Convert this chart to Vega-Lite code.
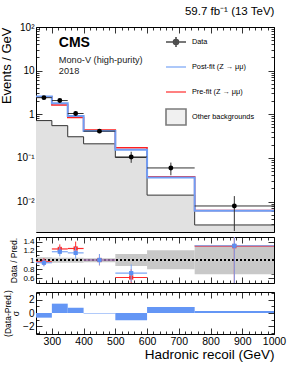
{
  "$schema": "https://vega.github.io/schema/vega-lite/v6.json",
  "padding": {"left": 0, "top": 5, "right": 5, "bottom": 5},
  "spacing": 3,
  "datasets": {
    "bins": [
      {"lo": 250, "hi": 300, "mid": 275, "data": 2.40, "dlo": 2.20, "dhi": 2.62, "post": 2.56, "pre": 2.51, "other": 0.716, "bandLo": 0.94, "bandHi": 1.06, "rPre": 0.96, "rPreLo": 0.88, "rPreHi": 1.04, "rPost": 0.94, "rPostLo": 0.86, "rPostHi": 1.02, "pull": -0.7},
      {"lo": 300, "hi": 350, "mid": 325, "data": 2.06, "dlo": 1.88, "dhi": 2.25, "post": 1.79, "pre": 1.64, "other": 0.548, "bandLo": 0.94, "bandHi": 1.05, "rPre": 1.24, "rPreLo": 1.13, "rPreHi": 1.34, "rPost": 1.18, "rPostLo": 1.08, "rPostHi": 1.28, "pull": 1.4},
      {"lo": 350, "hi": 400, "mid": 375, "data": 1.04, "dlo": 0.92, "dhi": 1.17, "post": 0.914, "pre": 0.839, "other": 0.305, "bandLo": 0.94, "bandHi": 1.05, "rPre": 1.25, "rPreLo": 1.11, "rPreHi": 1.40, "rPost": 1.155, "rPostLo": 1.03, "rPostHi": 1.28, "pull": 0.8},
      {"lo": 400, "hi": 500, "mid": 450, "data": 0.41, "dlo": 0.37, "dhi": 0.455, "post": 0.411, "pre": 0.434, "other": 0.21, "bandLo": 0.95, "bandHi": 1.04, "rPre": 1.0, "rPreLo": 0.885, "rPreHi": 1.13, "rPost": 1.0, "rPostLo": 0.885, "rPostHi": 1.13, "pull": -0.08},
      {"lo": 500, "hi": 600, "mid": 550, "data": 0.105, "dlo": 0.077, "dhi": 0.138, "post": 0.153, "pre": 0.170, "other": 0.102, "bandLo": 0.87, "bandHi": 1.13, "rPre": 0.62, "rPreLo": 0.45, "rPreHi": 0.80, "rPost": 0.715, "rPostLo": 0.52, "rPostHi": 0.905, "pull": -1.1},
      {"lo": 600, "hi": 750, "mid": 675, "data": 0.0588, "dlo": 0.040, "dhi": 0.078, "post": 0.0356, "pre": 0.0369, "other": 0.014, "bandLo": 0.80, "bandHi": 1.21, "rPre": null, "rPreLo": null, "rPreHi": null, "rPost": null, "rPostLo": null, "rPostHi": null, "pull": 0.9},
      {"lo": 750, "hi": 1000, "mid": 875, "data": 0.0079, "dlo": 0.0021, "dhi": 0.0133, "post": 0.0061, "pre": 0.0062, "other": 0.0029, "bandLo": 0.69, "bandHi": 1.32, "rPre": 1.30, "rPreLo": 0.3, "rPreHi": 2.3, "rPost": 1.31, "rPostLo": 0.3, "rPostHi": 2.3, "pull": 0.3}
    ]
  },
  "config": {
    "font": "Liberation Sans",
    "view": {"stroke": "black", "strokeWidth": 1},
    "axis": {"domain": false, "grid": false, "tickColor": "black", "tickWidth": 0.8, "labelColor": "black", "titleColor": "black", "labelFont": "Liberation Sans", "titleFont": "Liberation Sans", "titleFontWeight": "normal", "labelOverlap": false, "labelFlush": false, "labelBound": false}
  },
  "resolve": {"scale": {"shape": "independent", "fill": "independent", "stroke": "independent"}},
  "vconcat": [
    {
      "width": 238,
      "height": 205,
      "title": {"text": "59.7 fb⁻¹ (13 TeV)", "anchor": "end", "fontSize": 11.5, "fontWeight": "normal", "offset": 5, "font": "Liberation Sans"},
      "data": {"name": "bins"},
      "resolve": {"axis": {"x": "independent", "y": "independent"}},
      "layer": [
        {
          "transform": [{"fold": ["lo", "hi"], "as": ["edge", "xe"]}],
          "mark": {"type": "area", "color": "#e1e1e1", "clip": true},
          "encoding": {
            "x": {"field": "xe", "type": "quantitative", "scale": {"domain": [250, 1000], "nice": false, "zero": false},
              "axis": {"orient": "bottom", "labels": false, "title": null, "values": [260,280,300,320,340,360,380,400,420,440,460,480,500,520,540,560,580,600,620,640,660,680,700,720,740,760,780,800,820,840,860,880,900,920,940,960,980,1000],
                "tickSize": {"condition": {"test": "datum.value % 100 === 0", "value": -6}, "value": -3}}},
            "y": {"field": "other", "type": "quantitative", "scale": {"type": "log", "domain": [0.002, 100], "nice": false},
              "axis": {"orient": "left", "title": "Events / GeV", "titleFontSize": 13, "titleAnchor": "end", "titlePadding": 3, "labelFontSize": 10, "labelPadding": 8,
                "values": [0.003,0.004,0.005,0.006,0.007,0.008,0.009,0.01,0.02,0.03,0.04,0.05,0.06,0.07,0.08,0.09,0.1,0.2,0.3,0.4,0.5,0.6,0.7,0.8,0.9,1,2,3,4,5,6,7,8,9,10,20,30,40,50,60,70,80,90,100],
                "labelExpr": "datum.value==100?'10²':datum.value==10?'10':datum.value==1?'1':datum.value==0.1?'10⁻¹':datum.value==0.01?'10⁻²':''",
                "tickSize": {"condition": {"test": "datum.value==100||datum.value==10||datum.value==1||datum.value==0.1||datum.value==0.01", "value": -6}, "value": -3}}},
            "y2": {"datum": 0.002}
          }
        },
        {
          "transform": [{"fold": ["lo", "hi"], "as": ["edge", "xe"]}],
          "mark": {"type": "line", "color": "#333333", "strokeWidth": 1, "clip": true},
          "encoding": {
            "x": {"field": "xe", "type": "quantitative",
              "axis": {"orient": "top", "labels": false, "title": null, "values": [260,280,300,320,340,360,380,400,420,440,460,480,500,520,540,560,580,600,620,640,660,680,700,720,740,760,780,800,820,840,860,880,900,920,940,960,980,1000],
                "tickSize": {"condition": {"test": "datum.value % 100 === 0", "value": -6}, "value": -3}}},
            "y": {"field": "other", "type": "quantitative",
              "axis": {"orient": "right", "labels": false, "title": null,
                "values": [0.003,0.004,0.005,0.006,0.007,0.008,0.009,0.01,0.02,0.03,0.04,0.05,0.06,0.07,0.08,0.09,0.1,0.2,0.3,0.4,0.5,0.6,0.7,0.8,0.9,1,2,3,4,5,6,7,8,9,10,20,30,40,50,60,70,80,90,100],
                "tickSize": {"condition": {"test": "datum.value==100||datum.value==10||datum.value==1||datum.value==0.1||datum.value==0.01", "value": -6}, "value": -3}}}
          }
        },
        {
          "transform": [{"fold": ["lo", "hi"], "as": ["edge", "xe"]}],
          "mark": {"type": "line", "color": "#ff1f1f", "strokeWidth": 1.5, "clip": true},
          "encoding": {
            "x": {"field": "xe", "type": "quantitative", "axis": null},
            "y": {"field": "pre", "type": "quantitative", "axis": null}
          }
        },
        {
          "transform": [{"fold": ["lo", "hi"], "as": ["edge", "xe"]}],
          "mark": {"type": "line", "color": "#6f9ef5", "strokeWidth": 2, "clip": true},
          "encoding": {
            "x": {"field": "xe", "type": "quantitative", "axis": null},
            "y": {"field": "post", "type": "quantitative", "axis": null}
          }
        },
        {
          "mark": {"type": "rule", "color": "#333333", "strokeWidth": 1, "clip": true},
          "encoding": {
            "x": {"field": "lo", "type": "quantitative", "axis": null},
            "x2": {"field": "hi"},
            "y": {"field": "data", "type": "quantitative", "axis": null}
          }
        },
        {
          "mark": {"type": "rule", "color": "#333333", "strokeWidth": 1, "clip": true},
          "encoding": {
            "x": {"field": "mid", "type": "quantitative", "axis": null},
            "y": {"field": "dlo", "type": "quantitative", "axis": null},
            "y2": {"field": "dhi"}
          }
        },
        {
          "mark": {"type": "point", "shape": "circle", "filled": true, "color": "black", "opacity": 1, "size": 24, "clip": true},
          "encoding": {
            "x": {"field": "mid", "type": "quantitative", "axis": null},
            "y": {"field": "data", "type": "quantitative", "axis": null}
          }
        },
        {
          "data": {"values": [{"t": "CMS"}]},
          "mark": {"type": "text", "align": "left", "baseline": "middle", "fontSize": 14, "fontWeight": "bold", "font": "Liberation Sans", "color": "black"},
          "encoding": {
            "text": {"field": "t"},
            "x": {"datum": 322, "type": "quantitative", "axis": null},
            "y": {"datum": 43, "type": "quantitative", "axis": null}
          }
        },
        {
          "data": {"values": [{"t": "Mono-V (high-purity)"}]},
          "mark": {"type": "text", "align": "left", "baseline": "middle", "fontSize": 9.2, "font": "Liberation Sans", "color": "#222222"},
          "encoding": {
            "text": {"field": "t"},
            "x": {"datum": 322, "type": "quantitative", "axis": null},
            "y": {"datum": 17.5, "type": "quantitative", "axis": null}
          }
        },
        {
          "data": {"values": [{"t": "2018"}]},
          "mark": {"type": "text", "align": "left", "baseline": "middle", "fontSize": 9.2, "font": "Liberation Sans", "color": "#222222"},
          "encoding": {
            "text": {"field": "t"},
            "x": {"datum": 322, "type": "quantitative", "axis": null},
            "y": {"datum": 9.8, "type": "quantitative", "axis": null}
          }
        },
        {
          "data": {"values": [{"s": "Data"}, {"s": "Post-fit (Z → μμ)"}, {"s": "Pre-fit (Z → μμ)"}, {"s": "Other backgrounds"}]},
          "transform": [{"filter": "false"}],
          "mark": {"type": "point", "filled": true},
          "encoding": {
            "shape": {"field": "s", "type": "nominal",
              "scale": {"domain": ["Data", "Post-fit (Z → μμ)", "Pre-fit (Z → μμ)", "Other backgrounds"],
                "range": ["M-1,0H1M0,-0.5V0.5M0.25,0A0.25,0.25,0,1,1,-0.25,0A0.25,0.25,0,1,1,0.25,0ZM0,-1L0,-1M0,1L0,1", "M-1,0H1M0,-1L0,-1M0,1L0,1", "M-1,0H1M0,-1L0,-1M0,1L0,1", "M-1,-0.8H1V0.8H-1ZM0,-1L0,-1M0,1L0,1"]},
              "legend": {"orient": "none", "legendX": 129, "legendY": 4, "title": null, "symbolSize": 400, "symbolStrokeWidth": 1.6, "labelFontSize": 7.3, "labelFont": "Liberation Sans", "labelColor": "black", "rowPadding": -6, "labelOffset": 5, "padding": 0}},
            "fill": {"field": "s", "type": "nominal",
              "scale": {"domain": ["Data", "Post-fit (Z → μμ)", "Pre-fit (Z → μμ)", "Other backgrounds"], "range": ["black", "transparent", "transparent", "#e1e1e1"]},
              "legend": {"orient": "none", "legendX": 129, "legendY": 4, "title": null, "symbolSize": 400, "symbolStrokeWidth": 1.6, "labelFontSize": 7.3, "labelFont": "Liberation Sans", "labelColor": "black", "rowPadding": -6, "labelOffset": 5, "padding": 0}},
            "stroke": {"field": "s", "type": "nominal",
              "scale": {"domain": ["Data", "Post-fit (Z → μμ)", "Pre-fit (Z → μμ)", "Other backgrounds"], "range": ["black", "#6f9ef5", "#ff1f1f", "#444444"]},
              "legend": {"orient": "none", "legendX": 129, "legendY": 4, "title": null, "symbolSize": 400, "symbolStrokeWidth": 1.6, "labelFontSize": 7.3, "labelFont": "Liberation Sans", "labelColor": "black", "rowPadding": -6, "labelOffset": 5, "padding": 0}}
          }
        }
      ]
    },
    {
      "width": 238,
      "height": 46,
      "data": {"name": "bins"},
      "resolve": {"axis": {"x": "independent", "y": "independent"}},
      "layer": [
        {
          "mark": {"type": "rect", "color": "#c8c8c8", "clip": true},
          "encoding": {
            "x": {"field": "lo", "type": "quantitative", "scale": {"domain": [250, 1000], "nice": false, "zero": false},
              "axis": {"orient": "bottom", "labels": false, "title": null, "values": [260,280,300,320,340,360,380,400,420,440,460,480,500,520,540,560,580,600,620,640,660,680,700,720,740,760,780,800,820,840,860,880,900,920,940,960,980,1000],
                "tickSize": {"condition": {"test": "datum.value % 100 === 0", "value": -6}, "value": -3}}},
            "x2": {"field": "hi"},
            "y": {"field": "bandLo", "type": "quantitative", "scale": {"domain": [0.5, 1.5], "nice": false, "zero": false},
              "axis": {"orient": "left", "title": "Data / Pred.", "titleFontSize": 8.5, "titlePadding": 4, "labelFontSize": 8, "labelPadding": 8,
                "values": [0.6,0.7,0.8,0.9,1,1.1,1.2,1.3,1.4],
                "labelExpr": "round(datum.value*10)%2==0 ? format(datum.value,'~g') : ''",
                "tickSize": {"condition": {"test": "round(datum.value*10)%2==0", "value": -6}, "value": -3}}},
            "y2": {"field": "bandHi"}
          }
        },
        {
          "mark": {"type": "rule", "color": "black", "strokeWidth": 1.3, "strokeDash": [2, 2]},
          "encoding": {
            "y": {"datum": 1, "type": "quantitative", "axis": null}
          }
        },
        {
          "transform": [{"filter": "isValid(datum.rPre)"}],
          "mark": {"type": "rule", "color": "#ff2a2a", "strokeWidth": 1.2, "clip": true},
          "encoding": {
            "x": {"field": "lo", "type": "quantitative",
              "axis": {"orient": "top", "labels": false, "title": null, "values": [260,280,300,320,340,360,380,400,420,440,460,480,500,520,540,560,580,600,620,640,660,680,700,720,740,760,780,800,820,840,860,880,900,920,940,960,980,1000],
                "tickSize": {"condition": {"test": "datum.value % 100 === 0", "value": -6}, "value": -3}}},
            "x2": {"field": "hi"},
            "y": {"field": "rPre", "type": "quantitative",
              "axis": {"orient": "right", "labels": false, "title": null, "values": [0.6,0.7,0.8,0.9,1,1.1,1.2,1.3,1.4],
                "tickSize": {"condition": {"test": "round(datum.value*10)%2==0", "value": -6}, "value": -3}}}
          }
        },
        {
          "transform": [{"filter": "isValid(datum.rPre)"}],
          "mark": {"type": "rule", "color": "#ff2a2a", "strokeWidth": 1, "clip": true},
          "encoding": {
            "x": {"field": "mid", "type": "quantitative", "axis": null},
            "y": {"field": "rPreLo", "type": "quantitative", "axis": null},
            "y2": {"field": "rPreHi"}
          }
        },
        {
          "transform": [{"filter": "isValid(datum.rPre)"}],
          "mark": {"type": "point", "shape": "square", "filled": true, "color": "#ff2a2a", "opacity": 1, "size": 18, "clip": true},
          "encoding": {
            "x": {"field": "mid", "type": "quantitative", "axis": null},
            "y": {"field": "rPre", "type": "quantitative", "axis": null}
          }
        },
        {
          "transform": [{"filter": "isValid(datum.rPost)"}],
          "mark": {"type": "rule", "color": "#7aa6f5", "strokeWidth": 1.2, "clip": true},
          "encoding": {
            "x": {"field": "lo", "type": "quantitative", "axis": null},
            "x2": {"field": "hi"},
            "y": {"field": "rPost", "type": "quantitative", "axis": null}
          }
        },
        {
          "transform": [{"filter": "isValid(datum.rPost)"}],
          "mark": {"type": "rule", "color": "#7aa6f5", "strokeWidth": 1, "clip": true},
          "encoding": {
            "x": {"field": "mid", "type": "quantitative", "axis": null},
            "y": {"field": "rPostLo", "type": "quantitative", "axis": null},
            "y2": {"field": "rPostHi"}
          }
        },
        {
          "transform": [{"filter": "isValid(datum.rPost)"}],
          "mark": {"type": "point", "shape": "square", "filled": true, "color": "#5b8ff2", "opacity": 1, "size": 18, "clip": true},
          "encoding": {
            "x": {"field": "mid", "type": "quantitative", "axis": null},
            "y": {"field": "rPost", "type": "quantitative", "axis": null}
          }
        }
      ]
    },
    {
      "width": 238,
      "height": 42,
      "data": {"name": "bins"},
      "resolve": {"axis": {"x": "independent", "y": "independent"}},
      "layer": [
        {
          "mark": {"type": "rect", "color": "#6496f5", "clip": true},
          "encoding": {
            "x": {"field": "lo", "type": "quantitative", "scale": {"domain": [250, 1000], "nice": false, "zero": false},
              "axis": {"orient": "bottom", "title": "Hadronic recoil (GeV)", "titleFontSize": 13.5, "titleAnchor": "end", "titlePadding": -2, "labelFontSize": 10.5, "labelPadding": 8,
                "values": [260,280,300,320,340,360,380,400,420,440,460,480,500,520,540,560,580,600,620,640,660,680,700,720,740,760,780,800,820,840,860,880,900,920,940,960,980,1000],
                "labelExpr": "datum.value % 100 === 0 ? '' + datum.value : ''",
                "tickSize": {"condition": {"test": "datum.value % 100 === 0", "value": -6}, "value": -3}}},
            "x2": {"field": "hi"},
            "y": {"field": "pull", "type": "quantitative", "scale": {"domain": [-3.15, 3.15], "nice": false, "zero": false},
              "axis": {"orient": "left", "title": ["(Data-Pred.)", "σ"], "titleFontSize": 8.5, "titleLineHeight": 8, "titlePadding": 2, "labelFontSize": 10, "labelPadding": 8,
                "values": [-3, -2, -1, 0, 1, 2, 3],
                "labelExpr": "datum.value % 2 == 0 ? datum.label : ''",
                "tickSize": {"condition": {"test": "datum.value % 2 == 0", "value": -6}, "value": -3}}},
            "y2": {"datum": 0}
          }
        },
        {
          "mark": {"type": "rect", "opacity": 0},
          "encoding": {
            "x": {"field": "lo", "type": "quantitative",
              "axis": {"orient": "top", "labels": false, "title": null, "values": [260,280,300,320,340,360,380,400,420,440,460,480,500,520,540,560,580,600,620,640,660,680,700,720,740,760,780,800,820,840,860,880,900,920,940,960,980,1000],
                "tickSize": {"condition": {"test": "datum.value % 100 === 0", "value": -6}, "value": -3}}},
            "x2": {"field": "hi"},
            "y": {"field": "pull", "type": "quantitative",
              "axis": {"orient": "right", "labels": false, "title": null, "values": [-3, -2, -1, 0, 1, 2, 3],
                "tickSize": {"condition": {"test": "datum.value % 2 == 0", "value": -6}, "value": -3}}},
            "y2": {"datum": 0}
          }
        }
      ]
    }
  ]
}
